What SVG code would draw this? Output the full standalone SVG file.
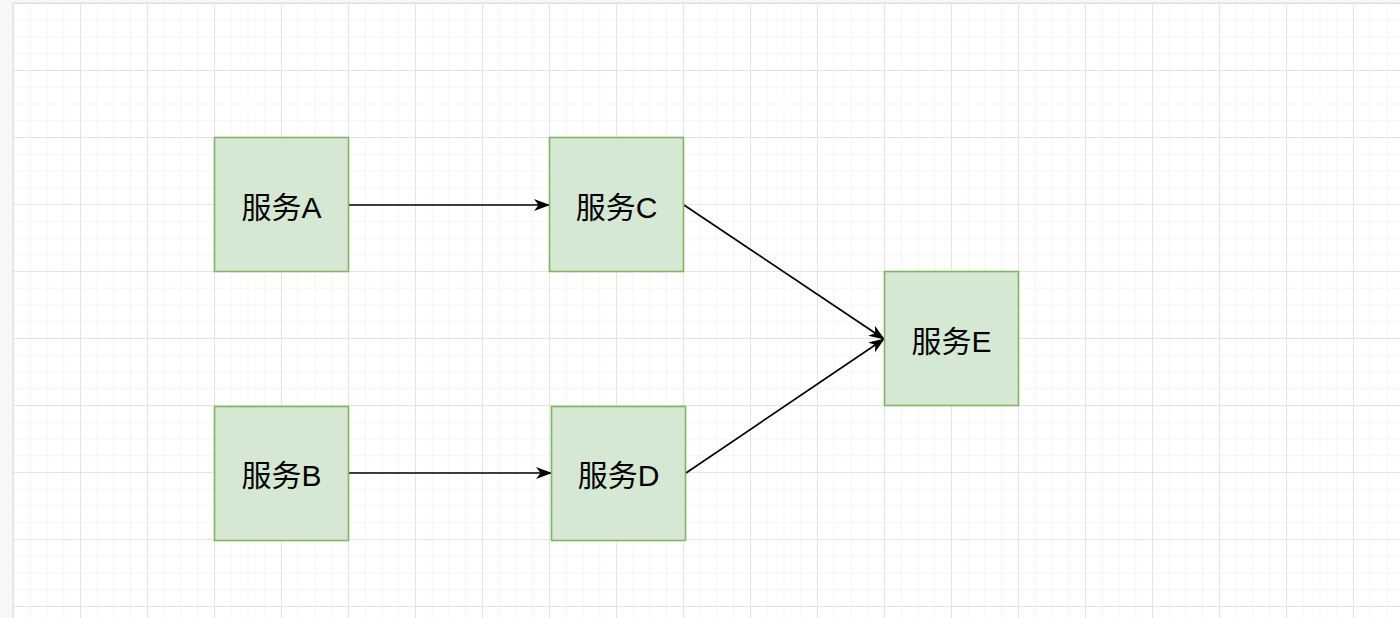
<svg xmlns="http://www.w3.org/2000/svg" width="1400" height="618" viewBox="0 0 1400 618">
<style>
.node rect{fill:#d5e8d4;stroke:#82b366;stroke-width:1.6}
.node text{font-family:"Liberation Sans","Noto Sans CJK SC",sans-serif;font-size:30px;fill:#000;text-anchor:middle;dominant-baseline:central}
.edge{stroke:#000;stroke-width:1.7;fill:none;marker-end:url(#arr)}
</style>
<defs>
<pattern id="minor" patternUnits="userSpaceOnUse" x="13" y="3" width="16.75" height="16.75">
<path d="M0,0 H16.75 M0,0 V16.75" stroke="#ececec" stroke-width="1" fill="none"/>
</pattern>
<pattern id="major" patternUnits="userSpaceOnUse" x="13" y="3" width="67" height="67">
<path d="M0,0 H67 M0,0 V67" stroke="#d6d6d6" stroke-width="1" fill="none"/>
</pattern>
<marker id="arr" markerUnits="userSpaceOnUse" viewBox="0 0 16 12" refX="15" refY="6" markerWidth="16" markerHeight="12" orient="auto">
<path d="M0,0 L16,6 L0,12 L4.5,6 z" fill="#000"/>
</marker>
</defs>
<rect width="1400" height="618" fill="#f7f7f7"/>
<rect x="13" y="3" width="1387" height="615" fill="#fff"/>
<rect x="13" y="3" width="1387" height="615" fill="url(#minor)"/>
<rect x="13" y="3" width="1387" height="615" fill="url(#major)"/>
<line x1="13" y1="3" x2="1400" y2="3" stroke="#dedede"/>
<line x1="13" y1="3" x2="13" y2="618" stroke="#dedede"/>
<g id="connectors">
<line class="edge" x1="349" y1="205" x2="549" y2="205"/>
<line class="edge" x1="349" y1="473" x2="551" y2="473"/>
<line class="edge" x1="684" y1="205" x2="884" y2="339"/>
<line class="edge" x1="686" y1="473" x2="884" y2="339"/>
</g>
<g id="nodeA" class="node"><rect x="214.5" y="137.5" width="134" height="134"/><text x="281.5" y="207">服务A</text></g>
<g id="nodeC" class="node"><rect x="549.5" y="137.5" width="134" height="134"/><text x="616.5" y="207">服务C</text></g>
<g id="nodeE" class="node"><rect x="884.5" y="271.5" width="134" height="134"/><text x="951.5" y="341">服务E</text></g>
<g id="nodeB" class="node"><rect x="214.5" y="406.5" width="134" height="134"/><text x="281.5" y="475">服务B</text></g>
<g id="nodeD" class="node"><rect x="551.5" y="406.5" width="134" height="134"/><text x="618.5" y="475">服务D</text></g>
</svg>
